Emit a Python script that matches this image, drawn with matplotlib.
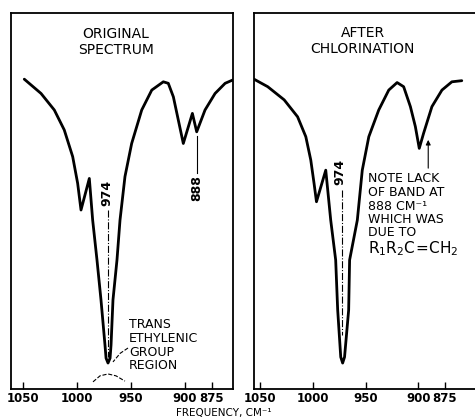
import matplotlib
matplotlib.use('Agg')
import matplotlib.pyplot as plt

# spectrum before chlorination (frequency cm-1, relative transmission)
orig_freq = [1048.8, 1033.3, 1021.0, 1011.8, 1004.0, 999.4, 996.3, 988.6, 985.5,
             981.5, 977.8, 974.1, 973.1, 971.3, 969.4, 968.5, 966.7, 963.0,
             960.2, 955.6, 949.4, 940.1, 930.8, 920.1, 915.5, 910.8, 906.2,
             901.6, 893.2, 889.2, 881.5, 872.2, 862.9, 855.7]
orig_trans = [82.4, 78.6, 74.2, 68.9, 61.8, 54.7, 47.6, 56.0, 44.9,
              34.3, 23.7, 11.7, 8.2, 6.9, 8.2, 11.7, 23.7, 34.3,
              44.9, 56.5, 65.3, 74.2, 79.5, 81.7, 81.3, 77.7, 71.5,
              65.3, 73.3, 68.4, 74.2, 78.6, 81.3, 82.2]

# spectrum after chlorination
chlor_freq = [1055.7, 1042.7, 1027.1, 1014.4, 1006.6, 1001.9, 998.8, 996.5,
              987.7, 983.0, 978.3, 976.4, 973.5, 971.7, 969.9, 966.0, 965.1,
              957.8, 953.1, 946.9, 937.5, 928.0, 920.1, 913.9, 907.5, 902.8,
              899.1, 895.0, 887.1, 877.6, 868.2, 858.8]
chlor_trans = [82.4, 80.4, 76.9, 72.4, 67.1, 60.9, 54.7, 49.8,
               58.2, 44.9, 34.3, 21.0, 8.5, 6.9, 8.5, 21.0, 34.3,
               44.9, 58.2, 67.1, 74.2, 79.5, 81.5, 80.4, 75.1, 69.8,
               64.0, 68.0, 75.1, 79.5, 81.7, 82.0]

tick_freqs = [1050, 1000, 950, 900, 875]
tick_labels = ['1050', '1000', '950', '900', '875']

band_974_orig = 971.3
band_974_chlor = 972.6
band_888 = 889.2

# bogen unter der bande (gestrichelt)
arc_freq = [985.2, 978.7, 971.3, 963.9, 955.6]
arc_trans = [1.9, 3.5, 4.0, 3.5, 2.1]

trans_lines = ['TRANS', 'ETHYLENIC', 'GROUP', 'REGION']
trans_base = [16.2, 12.5, 8.8, 5.3]

note_lines = ['NOTE LACK', 'OF BAND AT', '888 CM\u207b\u00b9', 'WHICH WAS', 'DUE TO']
note_base = [55.1, 51.3, 47.6, 44.1, 40.7]

plt.rcParams['font.family'] = ['DejaVu Sans']

fig = plt.figure(figsize=(4.75, 4.19), dpi=100)
ax1 = fig.add_axes([11 / 475, 1 - 389 / 419, 222 / 475, 376 / 419])
ax2 = fig.add_axes([254 / 475, 1 - 389 / 419, 231 / 475, 376 / 419])

for ax in (ax1, ax2):
    ax.set_ylim(0, 100)
    ax.set_yticks([])
    ax.set_xticks(tick_freqs)
    ax.set_xticklabels(tick_labels, fontsize=8.5, fontweight='bold')
    ax.tick_params(axis='x', direction='in', length=5, width=1.0, pad=2)
    for s in ax.spines.values():
        s.set_linewidth(1.3)

ax1.set_xlim(1061.1, 855.6)
ax2.set_xlim(1055.7, 836.8)
ax2.spines['right'].set_visible(False)

# kurven
ax1.plot(orig_freq, orig_trans, color='black', lw=2.0, solid_joinstyle='round',
         solid_capstyle='round')
ax2.plot(chlor_freq, chlor_trans, color='black', lw=2.0, solid_joinstyle='round',
         solid_capstyle='round')

# titel
ax1.text(963.9, 92.3, 'ORIGINAL\nSPECTRUM', ha='center', va='center', fontsize=10,
         linespacing=1.2)
ax2.text(952.8, 92.6, 'AFTER\nCHLORINATION', ha='center', va='center', fontsize=10,
         linespacing=1.2)

# linkes feld: markierungen
ax1.text(band_974_orig + 1.0, 52.1, '974', rotation=90, ha='center', va='center',
         fontsize=9, fontweight='bold')
ax1.plot([band_974_orig, band_974_orig], [47.6, 8.5], color='black', lw=0.8,
         linestyle='-.')
ax1.text(band_888, 53.5, '888', rotation=90, ha='center', va='center', fontsize=9,
         fontweight='bold')
ax1.plot([band_888, band_888], [67.3, 57.4], color='black', lw=0.8)
for line, base in zip(trans_lines, trans_base):
    ax1.text(951.9, base, line, ha='left', va='baseline', fontsize=9)
ax1.plot([952.8, 960.0, 966.7], [10.9, 9.5, 7.2], color='black', lw=0.8, linestyle='--')
ax1.plot(arc_freq, arc_trans, color='black', lw=0.8, linestyle='--')

# rechtes feld: markierungen
ax2.text(974.5, 57.7, '974', rotation=90, ha='center', va='center', fontsize=9,
         fontweight='bold')
ax2.plot([band_974_chlor, band_974_chlor], [52.9, 14.4], color='black', lw=0.8,
         linestyle='-.')
for line, base in zip(note_lines, note_base):
    ax2.text(948.1, base, line, ha='left', va='baseline', fontsize=9)
ax2.text(948.1, 36.2, r'$\mathregular{R_1R_2C\!=\!CH_2}$', ha='left', va='baseline',
         fontsize=11)
ax2.annotate('', xy=(890.6, 67.0), xytext=(890.6, 58.0),
             arrowprops=dict(arrowstyle='-|>', color='black', lw=0.8,
                             mutation_scale=7))

fig.text(224 / 475, 1.5 / 419, 'FREQUENCY, CM\u207b\u00b9', ha='center', va='bottom',
         fontsize=7.5)

fig.savefig('out.png', dpi=100)
